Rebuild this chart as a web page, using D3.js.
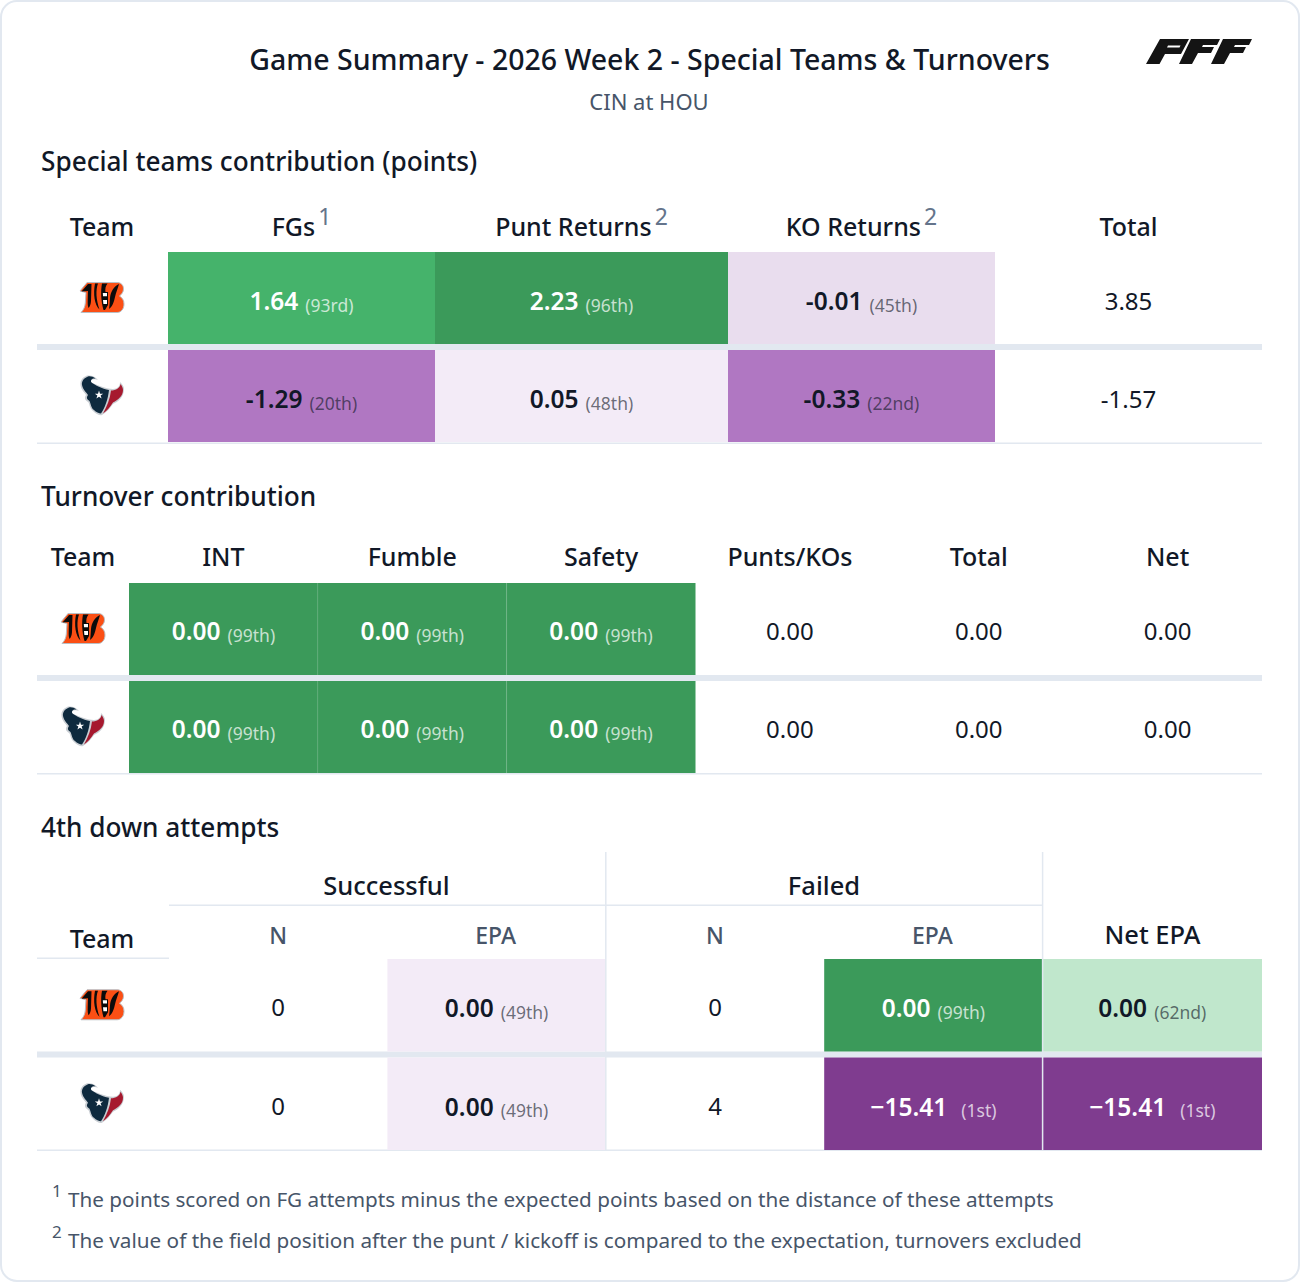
<!DOCTYPE html>
<html><head><meta charset="utf-8">
<script src="https://cdn.jsdelivr.net/npm/d3@7/dist/d3.min.js"></script>
<style>
html,body{margin:0;padding:0;background:#fff}
svg{display:block}
text{font-family:"Noto Sans",sans-serif;fill:#111827}
</style></head><body><div id="chart"></div>
<script>
const teams = ["CIN","HOU"];
const title = "Game Summary - 2026 Week 2 - Special Teams & Turnovers";
const subtitle = "CIN at HOU";

const stColumns = ["FGs","Punt Returns","KO Returns"];
const stNotes = ["1","2","2"];
const stValues = [["1.64","2.23","-0.01"],["-1.29","0.05","-0.33"]];
const stRanks = [["93rd","96th","45th"],["20th","48th","22nd"]];
const stTotals = ["3.85","-1.57"];

const toColumns = ["INT","Fumble","Safety"];
const toValues = [["0.00","0.00","0.00"],["0.00","0.00","0.00"]];
const toRanks = [["99th","99th","99th"],["99th","99th","99th"]];
const toPunts = ["0.00","0.00"];
const toTotals = ["0.00","0.00"];
const toNets = ["0.00","0.00"];

const fdSuccessN = ["0","0"];
const fdSuccessEpa = ["0.00","0.00"];
const fdSuccessRank = ["49th","49th"];
const fdFailedN = ["0","4"];
const fdFailedEpa = ["0.00","\u221215.41"];
const fdFailedRank = ["99th","1st"];
const fdNetEpa = ["0.00","\u221215.41"];
const fdNetRank = ["62nd","1st"];

const footnotes = [
 ["1","The points scored on FG attempts minus the expected points based on the distance of these attempts"],
 ["2","The value of the field position after the punt / kickoff is compared to the expectation, turnovers excluded"]
];

const W=1300,H=1282, L=37, R=1262;
const LINE="#E2E8F0";
const svg=d3.select("#chart").append("svg").attr("width",W).attr("height",H).attr("viewBox",`0 0 ${W} ${H}`);
svg.append("rect").attr("x",1).attr("y",1).attr("width",W-2).attr("height",H-2).attr("rx",16)
  .attr("fill","#fff").attr("stroke",LINE).attr("stroke-width",2);

const heat=d3.scaleThreshold().domain([10,35,47,55,75,94.5])
  .range(["#7F3C8F","#B077C2","#E9DDEE","#F3EBF7","#C0E7CC","#45B36B","#3B9A5A"]);
const isDark=p=>p<10||p>80;
const num=r=>parseInt(r,10);

function txt(x,y,s,size,opt={}){
  return svg.append("text").attr("x",x).attr("y",y).text(s)
   .attr("font-size",size).attr("text-anchor",opt.anchor||"middle")
   .attr("font-weight",opt.weight||400).style("fill",opt.fill||"#111827");
}
function cell(x0,x1,y0,y1,val,rank,shift=0){
  const p=num(rank), dark=isDark(p);
  svg.append("rect").attr("x",x0).attr("y",y0).attr("width",x1-x0).attr("height",y1-y0).attr("fill",heat(p));
  const t=svg.append("text").attr("x",(x0+x1)/2).attr("y",(y0+y1)/2+12+shift).attr("text-anchor","middle");
  t.append("tspan").text(val).attr("font-size",24.5).attr("font-weight",600).style("fill",dark?"#fff":"#111827");
  t.append("tspan").text(`(${rank})`).attr("dx",val.startsWith("\u2212")?14:7).attr("dy",1.5).attr("font-size",17.5)
    .style("fill",dark?"rgba(255,255,255,.72)":"rgba(17,24,39,.62)");
}
function bengals(cx,cy){
  const g=svg.append("g").attr("transform",`translate(${cx-22},${cy-15.5})`);
  g.append("path").attr("d","M0 9 L7 0.5 H37 C41 0.5 43.5 3 43.5 7 C43.5 10 41.5 12.5 39.5 14 C42.5 16 44 18.5 44 22 C44 27 41 30.5 37 30.5 H1 C3.5 28 5 25 5.3 21 L6 10.5 Z")
    .attr("fill","#FB4F14").attr("stroke","#B9BEC4").attr("stroke-width",1);
  const k="#0B0B0B";
  [ "M1.5 9.5 L8 2 H11.5 L11 19 C10.8 22 10 24.5 8.5 26 C7.8 24 7.6 22 7.7 19 L8 9 Z",
    "M15 1.5 H18 C15.5 8 16 18 19.5 27.5 C14.5 23 13 12 15 1.5 Z",
    "M22 1.5 H27.5 C25.5 4 25 7 25.5 10 H28 V23 L25 28 H23.5 C21 20 20.5 9 22 1.5 Z",
    "M39 2 C34 4 30.5 10 30 16 C29.6 21 29.6 24 29 27 C32 25 34 20 35 15 C36 10 38 6 39 2 Z"
  ].forEach(d=>g.append("path").attr("d",d).attr("fill",k));
  g.append("path").attr("d","M22.8 11 H27 V14.3 H23 Z M23 18 H27 V22 H23.4 Z").attr("fill","#fff");
}
function texans(cx,cy){
  const g=svg.append("g").attr("transform",`translate(${cx-22},${cy-20.5})`);
  g.append("path").attr("d","M7 0.5 C3 2 0 5 0.5 10 C1 15 5 18 6 20 C4 23 5 25 8 27 C10 29 9 33 13 36 C16 39 20 41 22 40 C27 37 30 33 33 29 C38 27 44 22 44 14 C44 11 42 9 40 7 C40 11 38 14 33 14 C26 14 14 9 11 7 C10 5 14 3 18 5 C15 1 11 0 7 0.5 Z")
    .attr("fill","#C9CED3");
  g.append("path").attr("d","M8 1.5 C4 3 1.5 6 2 10 C3 15 7 18 8 20 C6 23 7 24 9.5 26 C11 29 11 33 14 35 C16 37 19 38.5 21 38.5 C25 33 28 24 29 15 C22 14 15 10 11.5 7.5 C10 5 12 3 15.5 3.5 C13 1.5 10 1 8 1.5 Z")
    .attr("fill","#0E2A3E");
  g.append("path").attr("d","M31 15.5 C36 15.5 40 13 40.5 9 C42 11 43 13 43 15 C43 21 38 25 33 27.5 C30 32 27 36 23 38.5 C27 31 30 24 31 15.5 Z")
    .attr("fill","#A6192E");
  g.append("path").attr("d",d3.symbol().type(d3.symbolStar).size(22)()).attr("transform","translate(19,20)").attr("fill","#fff");
}
const logo=(t,cx,cy)=>t==="CIN"?bengals(cx,cy):texans(cx,cy);

function rowLines(x0,x1,sepY0,sepY1,bottom){
  svg.append("rect").attr("x",x0).attr("y",sepY0).attr("width",x1-x0).attr("height",sepY1-sepY0).attr("fill",LINE);
  svg.append("rect").attr("x",x0).attr("y",bottom).attr("width",x1-x0).attr("height",1.5).attr("fill",LINE);
}

/* Header */
txt(649.5,70,title,28.5,{weight:500});
txt(649,110,subtitle,22,{fill:"#475569"});
svg.append("path").attr("fill","#141414").attr("fill-rule","evenodd").attr("d",
 "M1160 39 H1189 L1181 54 H1165 L1159.5 64 H1146 Z M1168 45.5 H1180.5 L1179.5 47.5 H1167 Z"+
 "M1191 39 H1220 L1217 45 H1203 L1202 47 H1214 L1211 53 H1198 L1192 64 H1179 Z"+
 "M1223 39 H1252 L1249 45 H1235 L1234 47 H1246 L1243 53 H1230 L1224 64 H1211 Z");

/* Special teams */
txt(41,171,"Special teams contribution (points)",26.2,{anchor:"start",weight:500});
{
 const edges=d3.scaleOrdinal().domain(stColumns).range([168,435,728]);
 const widths=d3.scaleOrdinal().domain(stColumns).range([267,293,267]);
 const rows=d3.scaleBand().domain(teams).range([252,442]).paddingInner(6/98);
 txt(102,236,"Team",25,{weight:500});
 stColumns.forEach((c,i)=>{
   const t=txt(edges(c)+widths(c)/2,236,c,25,{weight:500});
   t.append("tspan").text(stNotes[i]).attr("dx",3).attr("dy",-11).attr("font-size",23).attr("font-weight",400).style("fill","#64748B");
 });
 txt(1128.5,236,"Total",25,{weight:500});
 rowLines(L,R,rows("CIN")+rows.bandwidth(),rows("HOU"),442.5);
 teams.forEach((t,r)=>{
   const y0=rows(t),y1=y0+rows.bandwidth(),m=(y0+y1)/2;
   logo(t,102,m-0.5);
   stColumns.forEach((c,i)=>cell(edges(c),edges(c)+widths(c),y0,y1,stValues[r][i],stRanks[r][i]));
   txt(1128.5,m+12,stTotals[r],24);
 });
}

/* Turnovers */
txt(41,506,"Turnover contribution",26.2,{anchor:"start",weight:500});
{
 const extra=["Punts/KOs","Total","Net"];
 const cols=d3.scaleBand().domain([...toColumns,...extra]).range([129,1262]);
 const rows=d3.scaleBand().domain(teams).range([583,773]).paddingInner(6/98);
 txt(83,566,"Team",25,{weight:500});
 cols.domain().forEach(c=>txt(cols(c)+cols.bandwidth()/2,566,c,25,{weight:500}));
 rowLines(L,R,rows("CIN")+rows.bandwidth(),rows("HOU"),773);
 teams.forEach((t,r)=>{
   const y0=rows(t),y1=y0+rows.bandwidth(),m=(y0+y1)/2;
   logo(t,83,m-0.5);
   toColumns.forEach((c,i)=>cell(cols(c),cols(c)+cols.bandwidth(),y0,y1,toValues[r][i],toRanks[r][i],-1));
   [toPunts,toTotals,toNets].forEach((a,i)=>txt(cols(extra[i])+cols.bandwidth()/2,m+11,a[r],24));
 });
 toColumns.slice(1).forEach(c=>svg.append("line").attr("x1",cols(c)).attr("x2",cols(c)).attr("y1",583).attr("y2",773)
   .attr("stroke","rgba(255,255,255,.08)"));
}

/* 4th down */
txt(41,837,"4th down attempts",26.2,{anchor:"start",weight:500});
{
 const cols=d3.scaleBand().domain(["sN","sE","fN","fE","net"]).range([169,1261]);
 const bw=cols.bandwidth();
 const rows=d3.scaleBand().domain(teams).range([959,1150]).paddingInner(6/98.5);
 txt(386.5,895,"Successful",25.5,{weight:500});
 txt(824,895,"Failed",25.5,{weight:500});
 txt(102,948,"Team",25,{weight:500});
 [["sN","N"],["sE","EPA"],["fN","N"],["fE","EPA"]].forEach(([c,s])=>txt(cols(c)+bw/2-(s==="EPA"?1:0),944,s,23,{fill:"#475569",weight:500}));
 txt(1152.5,944,"Net EPA",25.5,{weight:500});
 svg.append("rect").attr("x",169).attr("y",904.5).attr("width",873).attr("height",1.5).attr("fill",LINE);
 svg.append("rect").attr("x",L).attr("y",957.5).attr("width",132).attr("height",1.5).attr("fill",LINE);
 rowLines(L,R,rows("CIN")+rows.bandwidth(),rows("HOU"),1149.5);
 teams.forEach((t,r)=>{
   const y0=rows(t),y1=y0+rows.bandwidth(),m=(y0+y1)/2;
   logo(t,102,m-0.5);
   txt(cols("sN")+bw/2,m+11,fdSuccessN[r],24);
   cell(cols("sE"),cols("sE")+bw,y0,y1,fdSuccessEpa[r],fdSuccessRank[r]);
   txt(cols("fN")+bw/2,m+11,fdFailedN[r],24);
   cell(cols("fE"),cols("fE")+bw,y0,y1,fdFailedEpa[r],fdFailedRank[r]);
   cell(cols("net"),R,y0,y1,fdNetEpa[r],fdNetRank[r]);
 });
 ["fN","net"].forEach(c=>svg.append("rect").attr("x",cols(c)-0.75).attr("y",852).attr("width",1.5).attr("height",298).attr("fill",LINE));
}

/* Footnotes */
footnotes.forEach(([n,s],i)=>{
  const y=1207+i*41;
  txt(52,y-10,n,17,{anchor:"start",fill:"#475569"});
  txt(68,y,s,20.7,{anchor:"start",fill:"#475569"});
});
</script></body></html>
